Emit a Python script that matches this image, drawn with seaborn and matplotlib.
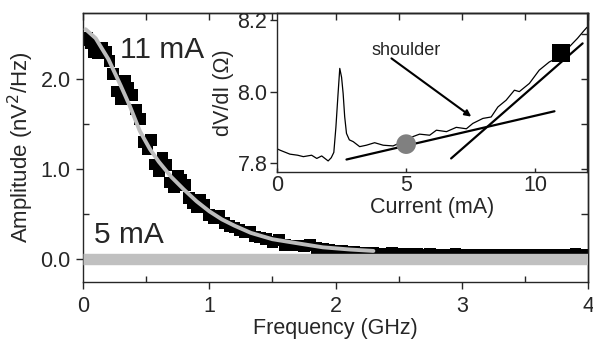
import numpy as np
import pandas as pd
import seaborn as sns
import matplotlib.pyplot as plt
from matplotlib.ticker import MultipleLocator

# noise spectrum at 11 mA (data points)
freq_11 = [0.00, 0.03, 0.06, 0.09, 0.12, 0.15, 0.18, 0.21, 0.24, 0.27,
           0.30, 0.33, 0.36, 0.39, 0.42, 0.45, 0.48, 0.51, 0.54, 0.57,
           0.60, 0.63, 0.66, 0.69, 0.72, 0.75, 0.78, 0.81, 0.84, 0.87,
           0.90, 0.93, 0.96, 1.00, 1.04, 1.08, 1.12, 1.16, 1.20, 1.24,
           1.28, 1.32, 1.36, 1.40, 1.45, 1.50, 1.55, 1.60, 1.65, 1.70,
           1.75, 1.80, 1.85, 1.90, 1.95, 2.00, 2.05, 2.10, 2.15, 2.20,
           2.25, 2.30, 2.35, 2.40, 2.45, 2.50, 2.55, 2.60, 2.65, 2.70,
           2.75, 2.80, 2.85, 2.90, 2.95, 3.00, 3.05, 3.10, 3.15, 3.20,
           3.25, 3.30, 3.35, 3.40, 3.45, 3.50, 3.55, 3.60, 3.65, 3.70,
           3.75, 3.80, 3.85, 3.90, 3.95, 4.00]
amp_11 = [2.43, 2.45, 2.40, 2.30, 2.29, 2.34, 2.30, 2.20, 2.05, 1.86,
          1.78, 1.98, 1.90, 1.82, 1.66, 1.55, 1.30, 1.22, 1.32, 1.05,
          0.98, 1.12, 1.04, 0.85, 0.80, 0.92, 0.88, 0.82, 0.68, 0.62,
          0.58, 0.66, 0.60, 0.49, 0.45, 0.48, 0.40, 0.37, 0.35, 0.32,
          0.30, 0.30, 0.25, 0.24, 0.22, 0.19, 0.21, 0.16, 0.15, 0.15,
          0.14, 0.16, 0.12, 0.11, 0.10, 0.095, 0.085, 0.08, 0.075, 0.07,
          0.07, 0.065, 0.06, 0.06, 0.065, 0.055, 0.055, 0.06, 0.055, 0.05,
          0.055, 0.05, 0.05, 0.05, 0.055, 0.05, 0.05, 0.05, 0.045, 0.05,
          0.05, 0.045, 0.05, 0.05, 0.05, 0.045, 0.05, 0.045, 0.045, 0.05,
          0.045, 0.045, 0.05, 0.06, 0.045, 0.045]

# fit to the 11 mA spectrum
freq_fit = [0.02, 0.10, 0.20, 0.30, 0.37, 0.45, 0.53, 0.60, 0.70, 0.80,
            0.90, 1.00, 1.10, 1.20, 1.33, 1.50, 1.72, 1.90, 2.12, 2.30]
amp_fit = [2.55, 2.45, 2.22, 1.92, 1.70, 1.42, 1.22, 1.08, 0.91, 0.77,
           0.64, 0.53, 0.44, 0.37, 0.29, 0.22, 0.17, 0.13, 0.105, 0.09]

# spectrum at 5 mA
freq_5 = [0.0, 0.5, 1.0, 1.5, 2.0, 2.5, 3.0, 3.5, 4.0]
amp_5 = [0.005, 0.005, 0.005, 0.005, 0.005, 0.005, 0.005, 0.005, 0.005]

# inset: differential resistance vs current
current = [0.0, 0.12, 0.5, 0.8, 1.02, 1.34, 1.54, 1.73, 1.98, 2.1,
           2.2, 2.28, 2.36, 2.43, 2.5, 2.56, 2.62, 2.69, 2.8, 2.95,
           3.2, 3.46, 3.78, 4.11, 4.49, 4.88, 5.26, 5.52, 5.91, 6.17,
           6.56, 6.94, 7.33, 7.58, 7.97, 8.29, 8.55, 8.87, 9.19, 9.38,
           9.77, 10.15, 10.54, 10.93, 11.31, 11.63, 11.9, 12.0]
dvdi = [7.84, 7.836, 7.825, 7.822, 7.818, 7.822, 7.813, 7.82, 7.806, 7.815,
        7.83, 7.90, 7.99, 8.065, 8.04, 7.995, 7.93, 7.883, 7.865, 7.86,
        7.846, 7.85, 7.857, 7.85, 7.848, 7.86, 7.874, 7.881, 7.878, 7.892,
        7.888, 7.90, 7.896, 7.911, 7.925, 7.929, 7.957, 7.976, 8.004, 8.0,
        8.023, 8.06, 8.083, 8.097, 8.125, 8.149, 8.172, 8.18]

# tangent lines and marked points in the inset
low_line_i = [2.69, 10.74]
low_line_v = [7.81, 7.945]
high_line_i = [6.74, 11.83]
high_line_v = [7.813, 8.135]
circle_i = [5.0]
circle_v = [7.853]
square_i = [11.0]
square_v = [8.107]

sns.set_style('ticks')
plt.rcParams['font.family'] = ['Liberation Sans', 'DejaVu Sans']
plt.rcParams['axes.linewidth'] = 1.0

fig = plt.figure(figsize=(5.93, 3.43), dpi=100)
ax = fig.add_axes([0.14, 0.1778, 0.8516, 0.7843])

df11 = pd.DataFrame({'f': freq_11, 'a': amp_11})
sns.scatterplot(data=df11, x='f', y='a', marker='s', s=72, color='black',
                edgecolor='none', linewidth=0, ax=ax, zorder=2)
sns.lineplot(x=freq_5, y=amp_5, color='#c0c0c0', linewidth=8.2,
             solid_capstyle='butt', ax=ax, zorder=3)
sns.lineplot(x=freq_fit, y=amp_fit, color='#bdbdbd', linewidth=2.8,
             estimator=None, sort=False, ax=ax, zorder=4)

ax.set_xlim(0, 4)
ax.set_ylim(-0.255, 2.73)
ax.set_xticks([0, 1, 2, 3, 4])
ax.set_xticklabels(['0', '1', '2', '3', '4'])
ax.set_yticks([0, 1, 2])
ax.set_yticklabels(['0.0', '1.0', '2.0'])
ax.xaxis.set_minor_locator(MultipleLocator(0.5))
ax.yaxis.set_minor_locator(MultipleLocator(0.5))
ax.tick_params(which='major', direction='out', length=5, width=1, labelsize=15.5, pad=4)
ax.tick_params(axis='x', which='major', pad=5)
ax.tick_params(which='minor', direction='in', length=4, width=1)
ax.set_xlabel('Frequency (GHz)', fontsize=15.5, labelpad=1)
ax.set_ylabel('Amplitude (nV$^2$/Hz)', fontsize=16, labelpad=3)

top = ax.secondary_xaxis('top')
top.set_xticks(np.arange(0, 4.01, 0.5))
top.tick_params(direction='in', length=5, width=1, labeltop=False)
right = ax.secondary_yaxis('right')
right.set_yticks(np.arange(0, 2.51, 0.5))
right.tick_params(direction='in', length=5, width=1, labelright=False)

ax.text(0.29, 2.23, '11 mA', fontsize=21.5, va='baseline', ha='left')
ax.text(0.09, 0.18, '5 mA', fontsize=21.5, va='baseline', ha='left')

# inset
ins = fig.add_axes([0.4671, 0.4985, 0.5228, 0.4636])
ins.patch.set_alpha(0)
sns.lineplot(x=current, y=dvdi, color='black', linewidth=0.9,
             estimator=None, sort=False, ax=ins)
sns.lineplot(x=low_line_i, y=low_line_v, color='black', linewidth=1.6, ax=ins)
sns.lineplot(x=high_line_i, y=high_line_v, color='black', linewidth=1.6, ax=ins)
sns.scatterplot(x=circle_i, y=circle_v, marker='o', s=200, color='#808080',
                edgecolor='none', ax=ins, zorder=5)
sns.scatterplot(x=square_i, y=square_v, marker='s', s=170, color='black',
                edgecolor='none', ax=ins, zorder=5)
ins.annotate('', xy=(7.52, 7.93), xytext=(4.43, 8.093),
             arrowprops=dict(arrowstyle='-|>', color='black', lw=1.5,
                             mutation_scale=9, shrinkA=0, shrinkB=0))
ins.text(5.0, 8.116, 'shoulder', fontsize=13, ha='center', va='center')

ins.set_xlim(0, 12)
ins.set_ylim(7.775, 8.22)
ins.set_xticks([0, 5, 10])
ins.set_yticks([7.8, 8.0, 8.2])
ins.set_yticklabels(['7.8', '8.0', '8.2'])
ins.tick_params(axis='y', direction='out', length=5, width=1, labelsize=15.5, pad=2)
ins.tick_params(axis='x', direction='in', length=3, width=1, labelsize=15.5, pad=2)
ins.set_xlabel('Current (mA)', fontsize=15.5, labelpad=1)
ins.set_ylabel('dV/dI (\u03a9)', fontsize=15.5, labelpad=2)

fig.savefig('out.png', dpi=100)
